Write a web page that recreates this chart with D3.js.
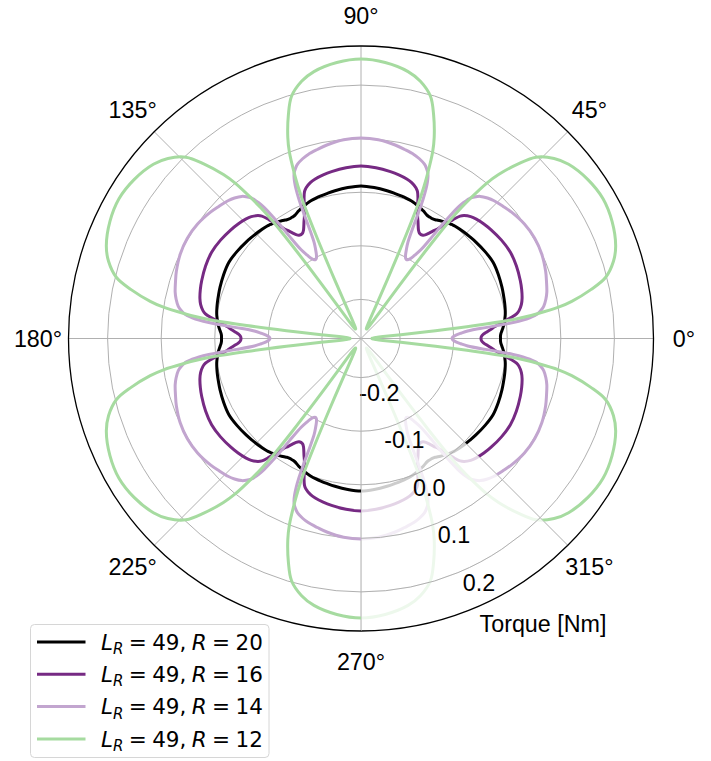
<!DOCTYPE html>
<html>
<head>
<meta charset="utf-8">
<script src="https://cdn.jsdelivr.net/npm/d3@7"></script>
<style>
  html, body { margin: 0; padding: 0; background: #fff; }
  svg text { font-family: "Liberation Sans", Arial, sans-serif; }
  svg text.math { font-family: "DejaVu Sans", sans-serif; }
</style>
</head>
<body>
<svg id="chart" width="711" height="761"></svg>
<script>
// Rotor angle within one 60° period (degrees); the profile repeats six times per turn.
const periodAngles = [0, 1, 2, 3, 4, 5, 5.5, 6, 6.5, 7, 7.5, 8, 9, 10, 12, 14, 17, 20, 25,
  30, 35, 40, 43, 46, 48, 50, 51, 52, 52.5, 53, 53.5, 54, 54.5, 55, 56, 57, 58, 59];
const periodCount = 6;

// Torque [Nm] over one period for each rotor radius R (L_R = 49).
const torqueR20 = [-0.0126, -0.0126, -0.0117, -0.0098, -0.0079, -0.0061, -0.0051, -0.0042, -0.0036,
  -0.0031, -0.0023, -0.0018, -0.0005, 0.0005, 0.0020, 0.0033, 0.0051, 0.0070, 0.0098,
  0.0117, 0.0098, 0.0070, 0.0051, 0.0033, 0.0020, 0.0005, -0.0005, -0.0018, -0.0023,
  -0.0031, -0.0036, -0.0042, -0.0051, -0.0061, -0.0079, -0.0098, -0.0117, -0.0126];
const torqueR16 = [-0.0490, -0.0481, -0.0443, -0.0378, -0.0303, -0.0229, -0.0182, -0.0135, -0.0079,
  -0.0023, 0.0042, 0.0107, 0.0210, 0.0266, 0.0331, 0.0369, 0.0406, 0.0434, 0.0471,
  0.0490, 0.0471, 0.0434, 0.0406, 0.0369, 0.0331, 0.0266, 0.0210, 0.0107, 0.0042,
  -0.0023, -0.0079, -0.0135, -0.0182, -0.0229, -0.0303, -0.0378, -0.0443, -0.0481];
const torqueR14 = [-0.1031, -0.1013, -0.0957, -0.0863, -0.0733, -0.0397, -0.0117, 0.0126, 0.0313,
  0.0443, 0.0537, 0.0602, 0.0677, 0.0733, 0.0798, 0.0845, 0.0891, 0.0938, 0.0994,
  0.1013, 0.0994, 0.0938, 0.0891, 0.0845, 0.0798, 0.0733, 0.0677, 0.0602, 0.0537,
  0.0443, 0.0313, 0.0126, -0.0117, -0.0397, -0.0733, -0.0863, -0.0957, -0.1013];
const torqueR12 = [-0.2525, -0.2525, -0.2515, -0.2497, -0.2450, -0.2319, -0.1983, -0.1330, -0.0583,
  0.0033, 0.0350, 0.0593, 0.1003, 0.1265, 0.1657, 0.1974, 0.2198, 0.2329, 0.2441,
  0.2487, 0.2441, 0.2329, 0.2198, 0.1974, 0.1657, 0.1265, 0.1003, 0.0593, 0.0350,
  0.0033, -0.0583, -0.1330, -0.1983, -0.2319, -0.2450, -0.2497, -0.2515, -0.2525];

const seriesLabels = ["20", "16", "14", "12"];
const seriesColors = ["#000000", "#762a83", "#c2a5cf", "#a6dba0"];
const seriesValues = [torqueR20, torqueR16, torqueR14, torqueR12];

const radialTicks = [-0.2, -0.1, 0.0, 0.1, 0.2];
const radialTickLabels = ["-0.2", "-0.1", "0.0", "0.1", "0.2"];
const angleTicks = [0, 45, 90, 135, 180, 225, 270, 315];
const radialLimits = [-0.273, 0.273];

// ---- layout ----
const cx = 361, cy = 338.5, outerR = 292.5;
const svg = d3.select("#chart");
const g = svg.append("g").attr("transform", `translate(${cx},${cy})`);

const r = d3.scaleLinear().domain(radialLimits).range([0, outerR]);
// math angle (deg, CCW from east) -> d3 radial angle (rad, CW from north)
const ang = d3.scaleLinear().domain([0, 360]).range([Math.PI / 2, Math.PI / 2 - 2 * Math.PI]);

// ---- grid ----
function drawGrid(parent) {
  const grid = parent.append("g").attr("stroke", "#b0b0b0").attr("stroke-width", 1).attr("fill", "none");
  grid.selectAll("circle").data(radialTicks).join("circle").attr("r", d => r(d));
  grid.selectAll("line").data(angleTicks).join("line")
    .attr("x1", 0).attr("y1", 0)
    .attr("x2", d => outerR * Math.cos(d * Math.PI / 180))
    .attr("y2", d => -outerR * Math.sin(d * Math.PI / 180));
}
drawGrid(g);

// ---- curves ----
const series = seriesValues.map((vals, i) => {
  const pts = [];
  for (let p = 0; p < periodCount; p++) {
    periodAngles.forEach((a, j) => pts.push({ deg: a + p * 60, v: vals[j] }));
  }
  return { label: seriesLabels[i], color: seriesColors[i], pts };
});

const line = d3.lineRadial()
  .angle(d => ang(d.deg))
  .radius(d => r(d.v))
  .curve(d3.curveCatmullRomClosed.alpha(0.5));

g.append("g").selectAll("path").data(series).join("path")
  .attr("d", d => line(d.pts))
  .attr("fill", "none")
  .attr("stroke", d => d.color)
  .attr("stroke-width", 3)
  .attr("stroke-linejoin", "round");

// ---- translucent sector behind the radial tick labels ----
const sector = d3.arc().innerRadius(0).outerRadius(outerR)
  .startAngle(Math.PI).endAngle(Math.PI * 3 / 4);
g.append("path").attr("d", sector()).attr("fill", "#fff").attr("fill-opacity", 0.8);

// grid stays crisp over the sector
const clip = svg.append("clipPath").attr("id", "sectorClip");
clip.append("path").attr("d", sector()).attr("transform", `translate(${cx},${cy})`);
const gridTop = svg.append("g").attr("clip-path", "url(#sectorClip)")
  .append("g").attr("transform", `translate(${cx},${cy})`);
drawGrid(gridTop);

// outer frame
g.append("circle").attr("r", outerR).attr("fill", "none").attr("stroke", "#000").attr("stroke-width", 1.3);

// ---- angular tick labels ----
g.append("g").selectAll("text").data(angleTicks).join("text")
  .attr("x", d => 323 * Math.cos(d * Math.PI / 180))
  .attr("y", d => -323 * Math.sin(d * Math.PI / 180))
  .attr("text-anchor", "middle")
  .attr("dominant-baseline", "central")
  .attr("font-size", 23.3)
  .text(d => d + "°");

// ---- radial tick labels along a ray at about -62° ----
const dirX = 0.4643, dirY = 0.8857, offX = -8, offY = 4.1;
g.append("g").selectAll("text").data(radialTicks).join("text")
  .attr("x", d => (r(d) + 17.8) * dirX + offX)
  .attr("y", d => (r(d) + 17.8) * dirY + offY)
  .attr("text-anchor", "middle")
  .attr("dominant-baseline", "central")
  .attr("font-size", 23.3)
  .text((d, i) => radialTickLabels[i]);

svg.append("text").attr("x", 543).attr("y", 624)
  .attr("text-anchor", "middle").attr("dominant-baseline", "central")
  .attr("font-size", 23.3).text("Torque [Nm]");

// ---- legend ----
const lg = svg.append("g");
lg.append("rect").attr("x", 30.5).attr("y", 624.5).attr("width", 238.5).attr("height", 133)
  .attr("rx", 4).attr("fill", "#fff").attr("fill-opacity", 0.8)
  .attr("stroke", "#d6d6d6").attr("stroke-width", 1);
const rowY = [642, 674.3, 706.6, 739];
series.forEach((s, i) => {
  const y = rowY[i];
  lg.append("line").attr("x1", 37).attr("x2", 85.5).attr("y1", y).attr("y2", y)
    .attr("stroke", s.color).attr("stroke-width", 3);
  const t = lg.append("text").attr("class", "math").attr("x", 101).attr("y", y + 7.5).attr("font-size", 21.5);
  t.append("tspan").attr("font-style", "italic").text("L");
  t.append("tspan").attr("font-style", "italic").attr("font-size", 15).attr("dy", 4.5).text("R");
  t.append("tspan").attr("dy", -4.5).text("\u2005=\u200549,\u2005");
  t.append("tspan").attr("font-style", "italic").text("R");
  t.append("tspan").text("\u2005=\u2005" + s.label);
});
</script>
</body>
</html>
